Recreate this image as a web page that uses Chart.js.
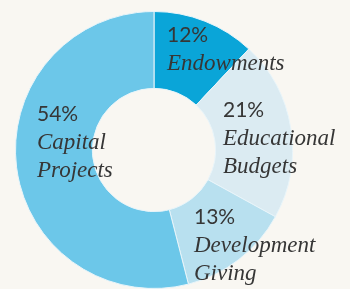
<!DOCTYPE html>
<html>
<head>
<meta charset="utf-8">
<script src="https://cdn.jsdelivr.net/npm/chart.js@4/dist/chart.umd.min.js"></script>
<style>
html,body{margin:0;padding:0;background:#f9f7f2;}
#wrap{width:350px;height:289px;position:relative;}
</style>
</head>
<body>
<div id="wrap"><canvas id="c" width="350" height="289"></canvas></div>
<script>
const categories = ["Endowments", "Educational Budgets", "Development Giving", "Capital Projects"];
const shares = [12, 21, 13, 54];
const nameLines = [["Endowments"], ["Educational", "Budgets"], ["Development", "Giving"], ["Capital", "Projects"]];
const percentLabels = ["12%", "21%", "13%", "54%"];

const colors = ["#0aa5d8", "#dbebf2", "#b8e0ef", "#6cc7e9"];
// label anchor offsets (left/top of the percent line) relative to chart centre
const labelOffsets = [[13, -123], [69, -48], [40, 59], [-117, -44]];

const PCT_FONT = '21px Lato';
const NAME_FONT = 'italic 23px "Liberation Serif"';

const labelPlugin = {
  id: 'sliceLabels',
  afterDatasetsDraw(chart) {
    const ctx = chart.ctx;
    const meta = chart.getDatasetMeta(0);
    const arc0 = meta.data[0];
    const cx = arc0.x, cy = arc0.y;
    ctx.save();
    ctx.textAlign = 'left';
    ctx.textBaseline = 'alphabetic';
    ctx.fillStyle = '#363636';
    meta.data.forEach((arc, i) => {
      const x = cx + labelOffsets[i][0];
      let y = cy + labelOffsets[i][1] + 15;
      ctx.font = PCT_FONT;
      ctx.fillText(percentLabels[i], x, y);
      ctx.font = NAME_FONT;
      nameLines[i].forEach((ln) => {
        y += 28;
        ctx.fillText(ln, x, y);
      });
    });
    ctx.restore();
  }
};

function draw() {
  new Chart(document.getElementById('c'), {
    type: 'doughnut',
    data: {
      labels: categories,
      datasets: [{
        data: shares,
        backgroundColor: colors,
        borderColor: '#e8f4f9',
        borderWidth: 1
      }]
    },
    options: {
      responsive: false,
      animation: false,
      cutout: '44.5%',
      rotation: 0,
      layout: { padding: { left: 15, right: 57, top: 11, bottom: 0 } },
      plugins: { legend: { display: false }, tooltip: { enabled: false } }
    },
    plugins: [labelPlugin]
  });
}

Promise.all([
  document.fonts.load(PCT_FONT, '12%'),
  document.fonts.load(NAME_FONT, 'Endowments')
]).then(draw, draw);
</script>
</body>
</html>
